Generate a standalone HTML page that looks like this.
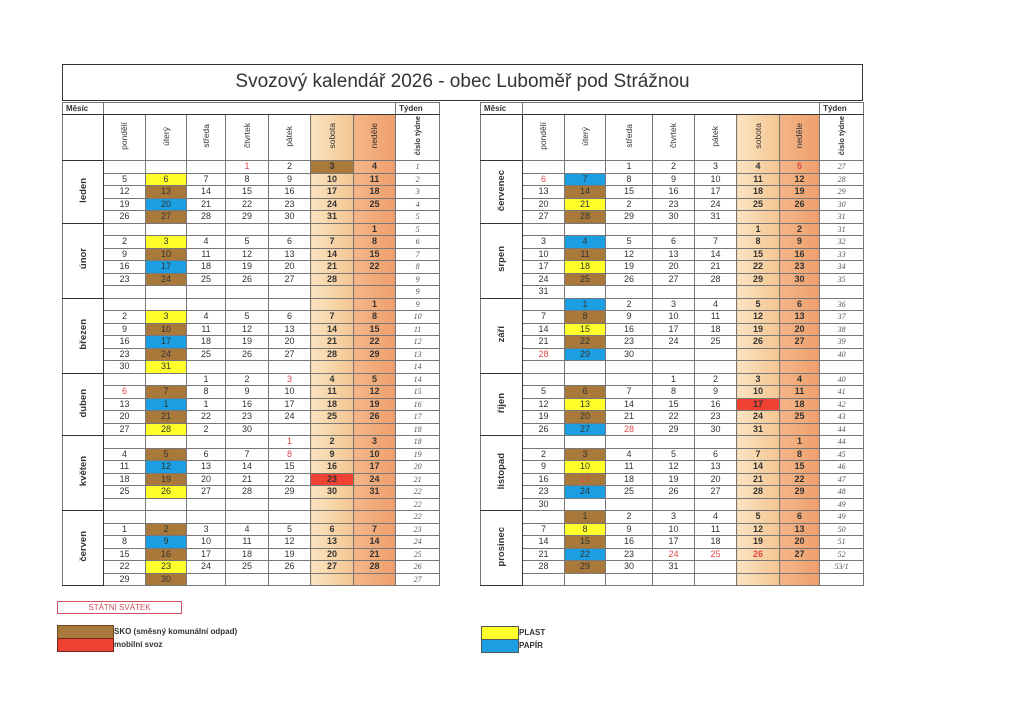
<!DOCTYPE html>
<html><head><meta charset="utf-8"><style>
body{margin:0;width:1024px;height:724px;background:#fff;position:relative;font-family:"Liberation Sans",sans-serif;overflow:hidden}
.title{position:absolute;left:62px;top:64px;width:799px;height:35px;border:1.5px solid #333;text-align:center;font-size:19px;line-height:33px;color:#333}
table{position:absolute;border-collapse:collapse;table-layout:fixed;font-size:9px;color:#333}
td{border:1px solid #777;padding:0;height:11.5px;line-height:11px;text-align:center;overflow:hidden;white-space:nowrap}
tr.h1 td{height:11px;font-weight:bold;font-size:8px;text-align:left;padding-left:3px;border-bottom:1.5px solid #333}
tr.h2 td{height:45px}
.v{writing-mode:vertical-rl;transform:rotate(180deg);display:inline-block;font-size:8.5px}
.wk{font-size:7.5px;font-weight:bold}
.mon{font-size:9.5px;color:#333;font-weight:bold}
td.w{font-family:"Liberation Serif",serif;font-style:italic;font-size:8px;color:#555}
tr td:nth-last-child(2){background:linear-gradient(90deg,#f5b588,#eda06c);font-weight:bold}
tr td:nth-last-child(3){background:linear-gradient(90deg,#fbe3c2,#f3c690);font-weight:bold}
tr.h1 td:nth-last-child(2),tr.h1 td:nth-last-child(3){background:none}
tr.h2 td:nth-last-child(2),tr.h2 td:nth-last-child(3){font-weight:normal}
td.b{background:#a8793a!important}
td.y{background:#ffff2a!important}
td.c{background:#1c9fe2!important}
td.r{background:#ef4232!important}
td.hl{color:#e04848}
tr.m td{border-top:1.5px solid #333}
table{border:1.5px solid #333}
td.mc{border-right:1.5px solid #333;border-bottom:1.5px solid #333}
.lg{position:absolute;font-size:8px;font-weight:bold;color:#333}
</style></head><body>
<div class="title">Svozový kalendář 2026 - obec Luboměř pod Strážnou</div>

<table style="left:62px;top:102px;width:377px">
<colgroup><col style="width:41px"><col style="width:42px"><col style="width:41px"><col style="width:39px"><col style="width:43px"><col style="width:42px"><col style="width:43px"><col style="width:42px"><col style="width:44px"></colgroup>
<tr class="h1"><td>Měsíc</td><td colspan="7"></td><td>Týden</td></tr>
<tr class="h2"><td class="mc"></td><td><span class="v">pondělí</span></td><td><span class="v">úterý</span></td><td><span class="v">středa</span></td><td><span class="v">čtvrtek</span></td><td><span class="v">pátek</span></td><td><span class="v">sobota</span></td><td><span class="v">neděle</span></td><td><span class="v wk">číslo týdne</span></td></tr>
<tr class="m"><td rowspan="5" class="mc"><span class="v mon">leden</span></td><td></td><td></td><td></td><td class="hl">1</td><td>2</td><td class="b">3</td><td>4</td><td class="w">1</td></tr>
<tr><td>5</td><td class="y">6</td><td>7</td><td>8</td><td>9</td><td>10</td><td>11</td><td class="w">2</td></tr>
<tr><td>12</td><td class="b">13</td><td>14</td><td>15</td><td>16</td><td>17</td><td>18</td><td class="w">3</td></tr>
<tr><td>19</td><td class="c">20</td><td>21</td><td>22</td><td>23</td><td>24</td><td>25</td><td class="w">4</td></tr>
<tr><td>26</td><td class="b">27</td><td>28</td><td>29</td><td>30</td><td>31</td><td></td><td class="w">5</td></tr>
<tr class="m"><td rowspan="6" class="mc"><span class="v mon">únor</span></td><td></td><td></td><td></td><td></td><td></td><td></td><td>1</td><td class="w">5</td></tr>
<tr><td>2</td><td class="y">3</td><td>4</td><td>5</td><td>6</td><td>7</td><td>8</td><td class="w">6</td></tr>
<tr><td>9</td><td class="b">10</td><td>11</td><td>12</td><td>13</td><td>14</td><td>15</td><td class="w">7</td></tr>
<tr><td>16</td><td class="c">17</td><td>18</td><td>19</td><td>20</td><td>21</td><td>22</td><td class="w">8</td></tr>
<tr><td>23</td><td class="b">24</td><td>25</td><td>26</td><td>27</td><td>28</td><td></td><td class="w">9</td></tr>
<tr><td></td><td></td><td></td><td></td><td></td><td></td><td></td><td class="w">9</td></tr>
<tr class="m"><td rowspan="6" class="mc"><span class="v mon">březen</span></td><td></td><td></td><td></td><td></td><td></td><td></td><td>1</td><td class="w">9</td></tr>
<tr><td>2</td><td class="y">3</td><td>4</td><td>5</td><td>6</td><td>7</td><td>8</td><td class="w">10</td></tr>
<tr><td>9</td><td class="b">10</td><td>11</td><td>12</td><td>13</td><td>14</td><td>15</td><td class="w">11</td></tr>
<tr><td>16</td><td class="c">17</td><td>18</td><td>19</td><td>20</td><td>21</td><td>22</td><td class="w">12</td></tr>
<tr><td>23</td><td class="b">24</td><td>25</td><td>26</td><td>27</td><td>28</td><td>29</td><td class="w">13</td></tr>
<tr><td>30</td><td class="y">31</td><td></td><td></td><td></td><td></td><td></td><td class="w">14</td></tr>
<tr class="m"><td rowspan="5" class="mc"><span class="v mon">duben</span></td><td></td><td></td><td>1</td><td>2</td><td class="hl">3</td><td>4</td><td>5</td><td class="w">14</td></tr>
<tr><td class="hl">6</td><td class="b">7</td><td>8</td><td>9</td><td>10</td><td>11</td><td>12</td><td class="w">15</td></tr>
<tr><td>13</td><td class="c">1</td><td>1</td><td>16</td><td>17</td><td>18</td><td>19</td><td class="w">16</td></tr>
<tr><td>20</td><td class="b">21</td><td>22</td><td>23</td><td>24</td><td>25</td><td>26</td><td class="w">17</td></tr>
<tr><td>27</td><td class="y">28</td><td>2</td><td>30</td><td></td><td></td><td></td><td class="w">18</td></tr>
<tr class="m"><td rowspan="6" class="mc"><span class="v mon">květen</span></td><td></td><td></td><td></td><td></td><td class="hl">1</td><td>2</td><td>3</td><td class="w">18</td></tr>
<tr><td>4</td><td class="b">5</td><td>6</td><td>7</td><td class="hl">8</td><td>9</td><td>10</td><td class="w">19</td></tr>
<tr><td>11</td><td class="c">12</td><td>13</td><td>14</td><td>15</td><td>16</td><td>17</td><td class="w">20</td></tr>
<tr><td>18</td><td class="b">19</td><td>20</td><td>21</td><td>22</td><td class="r">23</td><td>24</td><td class="w">21</td></tr>
<tr><td>25</td><td class="y">26</td><td>27</td><td>28</td><td>29</td><td>30</td><td>31</td><td class="w">22</td></tr>
<tr><td></td><td></td><td></td><td></td><td></td><td></td><td></td><td class="w">22</td></tr>
<tr class="m"><td rowspan="6" class="mc"><span class="v mon">červen</span></td><td></td><td></td><td></td><td></td><td></td><td></td><td></td><td class="w">22</td></tr>
<tr><td>1</td><td class="b">2</td><td>3</td><td>4</td><td>5</td><td>6</td><td>7</td><td class="w">23</td></tr>
<tr><td>8</td><td class="c">9</td><td>10</td><td>11</td><td>12</td><td>13</td><td>14</td><td class="w">24</td></tr>
<tr><td>15</td><td class="b">16</td><td>17</td><td>18</td><td>19</td><td>20</td><td>21</td><td class="w">25</td></tr>
<tr><td>22</td><td class="y">23</td><td>24</td><td>25</td><td>26</td><td>27</td><td>28</td><td class="w">26</td></tr>
<tr><td>29</td><td class="b">30</td><td></td><td></td><td></td><td></td><td></td><td class="w">27</td></tr>
</table>

<table style="left:480px;top:102px;width:383px">
<colgroup><col style="width:42px"><col style="width:42px"><col style="width:41px"><col style="width:47px"><col style="width:42px"><col style="width:42px"><col style="width:43px"><col style="width:40px"><col style="width:44px"></colgroup>
<tr class="h1"><td>Měsíc</td><td colspan="7"></td><td>Týden</td></tr>
<tr class="h2"><td class="mc"></td><td><span class="v">pondělí</span></td><td><span class="v">úterý</span></td><td><span class="v">středa</span></td><td><span class="v">čtvrtek</span></td><td><span class="v">pátek</span></td><td><span class="v">sobota</span></td><td><span class="v">neděle</span></td><td><span class="v wk">číslo týdne</span></td></tr>
<tr class="m"><td rowspan="5" class="mc"><span class="v mon">červenec</span></td><td></td><td></td><td>1</td><td>2</td><td>3</td><td>4</td><td class="hl">5</td><td class="w">27</td></tr>
<tr><td class="hl">6</td><td class="c">7</td><td>8</td><td>9</td><td>10</td><td>11</td><td>12</td><td class="w">28</td></tr>
<tr><td>13</td><td class="b">14</td><td>15</td><td>16</td><td>17</td><td>18</td><td>19</td><td class="w">29</td></tr>
<tr><td>20</td><td class="y">21</td><td>2</td><td>23</td><td>24</td><td>25</td><td>26</td><td class="w">30</td></tr>
<tr><td>27</td><td class="b">28</td><td>29</td><td>30</td><td>31</td><td></td><td></td><td class="w">31</td></tr>
<tr class="m"><td rowspan="6" class="mc"><span class="v mon">srpen</span></td><td></td><td></td><td></td><td></td><td></td><td>1</td><td>2</td><td class="w">31</td></tr>
<tr><td>3</td><td class="c">4</td><td>5</td><td>6</td><td>7</td><td>8</td><td>9</td><td class="w">32</td></tr>
<tr><td>10</td><td class="b">11</td><td>12</td><td>13</td><td>14</td><td>15</td><td>16</td><td class="w">33</td></tr>
<tr><td>17</td><td class="y">18</td><td>19</td><td>20</td><td>21</td><td>22</td><td>23</td><td class="w">34</td></tr>
<tr><td>24</td><td class="b">25</td><td>26</td><td>27</td><td>28</td><td>29</td><td>30</td><td class="w">35</td></tr>
<tr><td>31</td><td></td><td></td><td></td><td></td><td></td><td></td><td class="w"></td></tr>
<tr class="m"><td rowspan="6" class="mc"><span class="v mon">září</span></td><td></td><td class="c">1</td><td>2</td><td>3</td><td>4</td><td>5</td><td>6</td><td class="w">36</td></tr>
<tr><td>7</td><td class="b">8</td><td>9</td><td>10</td><td>11</td><td>12</td><td>13</td><td class="w">37</td></tr>
<tr><td>14</td><td class="y">15</td><td>16</td><td>17</td><td>18</td><td>19</td><td>20</td><td class="w">38</td></tr>
<tr><td>21</td><td class="b">22</td><td>23</td><td>24</td><td>25</td><td>26</td><td>27</td><td class="w">39</td></tr>
<tr><td class="hl">28</td><td class="c">29</td><td>30</td><td></td><td></td><td></td><td></td><td class="w">40</td></tr>
<tr><td></td><td></td><td></td><td></td><td></td><td></td><td></td><td class="w"></td></tr>
<tr class="m"><td rowspan="5" class="mc"><span class="v mon">říjen</span></td><td></td><td></td><td></td><td>1</td><td>2</td><td>3</td><td>4</td><td class="w">40</td></tr>
<tr><td>5</td><td class="b">6</td><td>7</td><td>8</td><td>9</td><td>10</td><td>11</td><td class="w">41</td></tr>
<tr><td>12</td><td class="y">13</td><td>14</td><td>15</td><td>16</td><td class="r">17</td><td>18</td><td class="w">42</td></tr>
<tr><td>19</td><td class="b">20</td><td>21</td><td>22</td><td>23</td><td>24</td><td>25</td><td class="w">43</td></tr>
<tr><td>26</td><td class="c">27</td><td class="hl">28</td><td>29</td><td>30</td><td>31</td><td></td><td class="w">44</td></tr>
<tr class="m"><td rowspan="6" class="mc"><span class="v mon">listopad</span></td><td></td><td></td><td></td><td></td><td></td><td></td><td>1</td><td class="w">44</td></tr>
<tr><td>2</td><td class="b">3</td><td>4</td><td>5</td><td>6</td><td>7</td><td>8</td><td class="w">45</td></tr>
<tr><td>9</td><td class="y">10</td><td>11</td><td>12</td><td>13</td><td>14</td><td>15</td><td class="w">46</td></tr>
<tr><td>16</td><td class="b hl">17</td><td>18</td><td>19</td><td>20</td><td>21</td><td>22</td><td class="w">47</td></tr>
<tr><td>23</td><td class="c">24</td><td>25</td><td>26</td><td>27</td><td>28</td><td>29</td><td class="w">48</td></tr>
<tr><td>30</td><td></td><td></td><td></td><td></td><td></td><td></td><td class="w">49</td></tr>
<tr class="m"><td rowspan="6" class="mc"><span class="v mon">prosinec</span></td><td></td><td class="b">1</td><td>2</td><td>3</td><td>4</td><td>5</td><td>6</td><td class="w">49</td></tr>
<tr><td>7</td><td class="y">8</td><td>9</td><td>10</td><td>11</td><td>12</td><td>13</td><td class="w">50</td></tr>
<tr><td>14</td><td class="b">15</td><td>16</td><td>17</td><td>18</td><td>19</td><td>20</td><td class="w">51</td></tr>
<tr><td>21</td><td class="c">22</td><td>23</td><td class="hl">24</td><td class="hl">25</td><td class="hl">26</td><td>27</td><td class="w">52</td></tr>
<tr><td>28</td><td class="b">29</td><td>30</td><td>31</td><td></td><td></td><td></td><td class="w">53/1</td></tr>
<tr><td></td><td></td><td></td><td></td><td></td><td></td><td></td><td class="w"></td></tr>
</table>

<div style="position:absolute;left:57px;top:601px;width:123px;height:11px;border:1.5px solid #d05060;color:#d05060;font-size:8px;text-align:center;line-height:11px">STÁTNÍ SVÁTEK</div>
<div style="position:absolute;left:57px;top:625px;width:55px;height:12px;background:#a8793a;border:1px solid #6a4a20"></div>
<div style="position:absolute;left:57px;top:638px;width:55px;height:12px;background:#ef4232;border:1px solid #6a2a20"></div>
<div class="lg" style="left:114px;top:627px">SKO (směsný komunální odpad)</div>
<div class="lg" style="left:114px;top:640px">mobilní svoz</div>
<div style="position:absolute;left:481px;top:626px;width:36px;height:12px;background:#ffff2a;border:1px solid #555"></div>
<div style="position:absolute;left:481px;top:639px;width:36px;height:12px;background:#1c9fe2;border:1px solid #555"></div>
<div class="lg" style="left:519px;top:628px">PLAST</div>
<div class="lg" style="left:519px;top:641px">PAPÍR</div>
</body></html>
